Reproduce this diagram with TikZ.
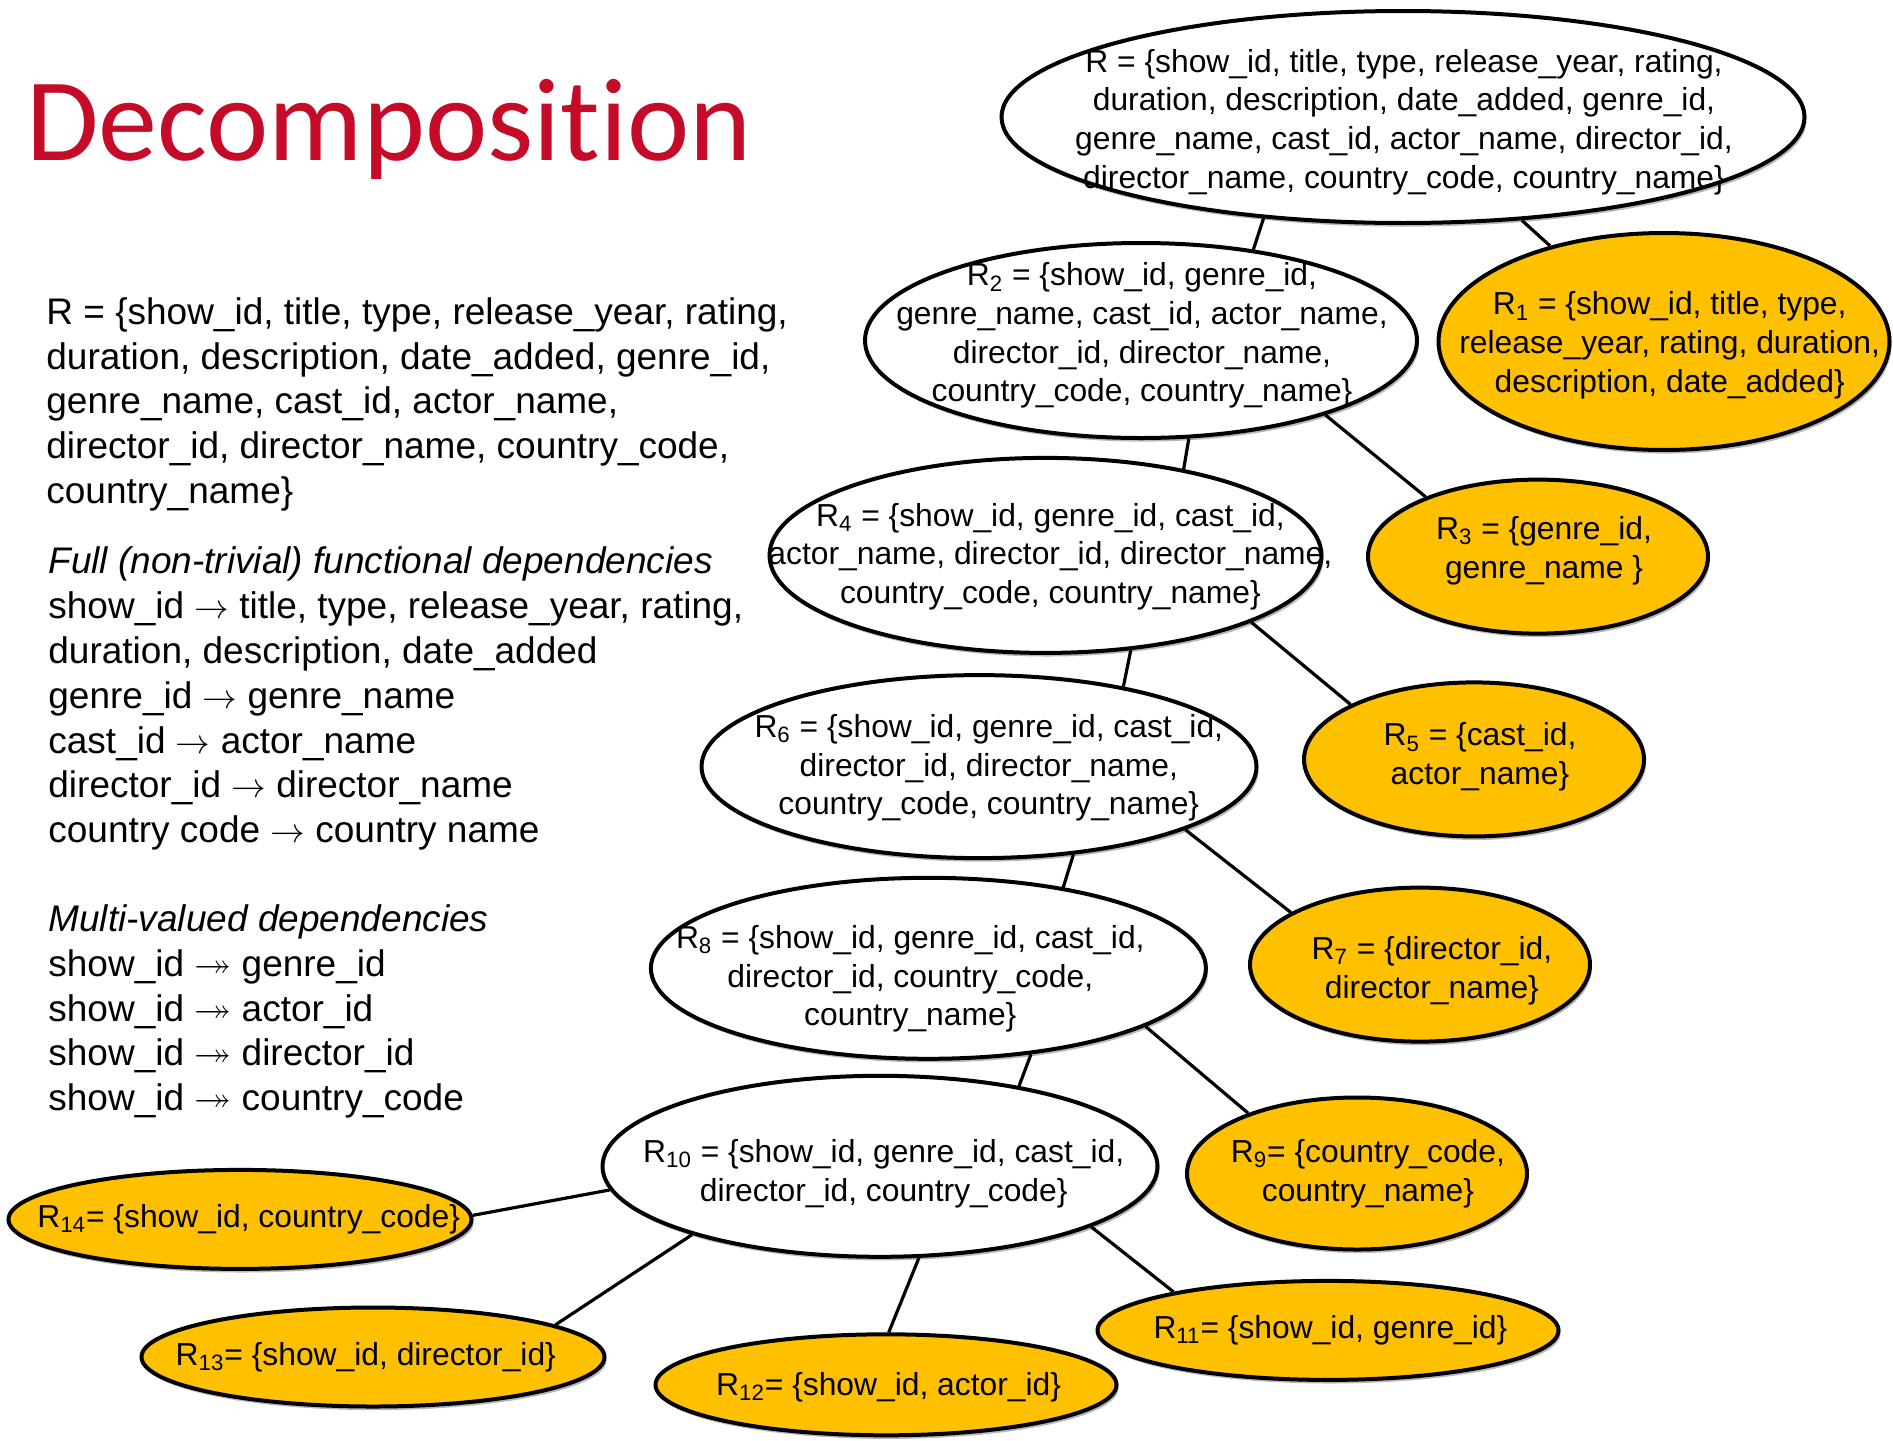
\documentclass[tikz,border=0pt]{standalone}
\usepackage{amssymb}
\usepackage{fontspec}
\setmainfont{Liberation Sans}
\newfontfamily\titlefont[Ligatures=NoCommon]{Carlito}
\usetikzlibrary{shapes.geometric,shadows}
\definecolor{gold}{RGB}{255,192,0}
\definecolor{titlered}{RGB}{196,12,40}

\begin{document}
\begin{tikzpicture}[x=0.5pt,y=-0.5pt,
  rel/.style={ellipse, draw=black, line width=2pt, fill=white, inner sep=0pt,
    drop shadow={shadow xshift=1pt, shadow yshift=-1.8pt, fill=black, opacity=0.28}},
  leaf/.style={rel, fill=gold},
  sz/.style 2 args={minimum width=#1*0.5pt, minimum height=#2*0.5pt},
  etxt/.style={align=center, inner sep=0pt, font=\fontsize{15.9}{19.3}\selectfont},
  side/.style={align=left, inner sep=0pt, anchor=base west, font=\fontsize{18.5}{22.4}\selectfont},
  link/.style={line width=1.6pt}]

\useasboundingbox[fill=white] (0,0) rectangle (1893,1440);

% heading
\node[anchor=base west, inner sep=0pt, text=titlered,
      font=\titlefont\fontsize{59}{61}\selectfont] (title) at (26,160) {Decomposition};

% schema and dependencies (each node is placed by the baseline of its last line)
\node[side] (schema) at (46,503.4) {R = \{show\_id, title, type, release\_year, rating,\\
duration, description, date\_added, genre\_id,\\
genre\_name, cast\_id, actor\_name,\\
director\_id, director\_name, country\_code,\\
country\_name\}};

\node[side] (fds) at (48,842.6) {\textit{Full (non-trivial) functional dependencies}\\
show\_id $\rightarrow$ title, type, release\_year, rating,\\
duration, description, date\_added\\
genre\_id $\rightarrow$ genre\_name\\
cast\_id $\rightarrow$ actor\_name\\
director\_id $\rightarrow$ director\_name\\
country code $\rightarrow$ country name};

\node[side] (mvds) at (48,1110.7) {\textit{Multi-valued dependencies}\\
show\_id $\twoheadrightarrow$ genre\_id\\
show\_id $\twoheadrightarrow$ actor\_id\\
show\_id $\twoheadrightarrow$ director\_id\\
show\_id $\twoheadrightarrow$ country\_code};

% decomposition tree: relations
\node[rel,  sz={803}{212}] (R)   at (1403,117)    {};
\node[rel,  sz={552}{195}] (R2)  at (1141,340.5)  {};
\node[leaf, sz={451}{217}] (R1)  at (1664,341.5)  {};
\node[rel,  sz={552}{195}] (R4)  at (1045.5,555.4){};
\node[leaf, sz={340}{154}] (R3)  at (1538,556.6)  {};
\node[rel,  sz={555}{183}] (R6)  at (979,766.6)   {};
\node[leaf, sz={340}{154}] (R5)  at (1474,759.4)  {};
\node[rel,  sz={555}{181}] (R8)  at (928.4,968.3) {};
\node[leaf, sz={340}{154}] (R7)  at (1420,964.6)  {};
\node[rel,  sz={555}{181}] (R10) at (880,1166.3)  {};
\node[leaf, sz={340}{152}] (R9)  at (1357,1173.5) {};
\node[leaf, sz={463}{99}]  (R14) at (240,1219.4)  {};
\node[leaf, sz={463}{99}]  (R13) at (373,1357)    {};
\node[leaf, sz={461}{101}] (R12) at (886,1384.8)  {};
\node[leaf, sz={461}{99}]  (R11) at (1328,1330.4) {};

% decomposition tree: edges
\draw[link] (R.216.9)   -- (R2.39.1);
\draw[link] (R.319.6)   -- (R1.140);
\draw[link] (R2.296.6)  -- (R4.32.7);
\draw[link] (R2.338.5)  -- (R3.152.9);
\draw[link] (R4.312)    -- (R6.29.8);
\draw[link] (R4.342.3)  -- (R5.156.4);
\draw[link] (R6.317.3)  -- (R8.31);
\draw[link] (R6.343.3)  -- (R7.158.3);
\draw[link] (R8.320.7)  -- (R10.30.6);
\draw[link] (R8.345.6)  -- (R9.151.6);
\draw[link] (R10.185.2) -- (R14.1);
\draw[link] (R10.200.6) -- (R13.10.3);
\draw[link] (R10.293.3) -- (R12.87.5);
\draw[link] (R10.344.7) -- (R11.166.6);

% decomposition tree: attribute sets
\node[etxt] (tR) at (1404,122) {R = \{show\_id, title, type, release\_year, rating,\\
duration, description, date\_added, genre\_id,\\
genre\_name, cast\_id, actor\_name, director\_id,\\
director\_name, country\_code, country\_name\}};
\node[etxt] (tR2) at (1142,335.6) {R\textsubscript{2} = \{show\_id, genre\_id,\\
genre\_name, cast\_id, actor\_name,\\
director\_id, director\_name,\\
country\_code, country\_name\}};
\node[etxt] (tR1) at (1669.7,345.3) {R\textsubscript{1} = \{show\_id, title, type,\\
release\_year, rating, duration,\\
description, date\_added\}};
\node[etxt] (tR4) at (1050.4,556.6) {R\textsubscript{4} = \{show\_id, genre\_id, cast\_id,\\
actor\_name, director\_id, director\_name,\\
country\_code, country\_name\}};
\node[etxt] (tR3) at (1544,550.5) {R\textsubscript{3} = \{genre\_id,\\
genre\_name \}};
\node[etxt] (tR6) at (988.8,767.8) {R\textsubscript{6} = \{show\_id, genre\_id, cast\_id,\\
director\_id, director\_name,\\
country\_code, country\_name\}};
\node[etxt] (tR5) at (1480,757) {R\textsubscript{5} = \{cast\_id,\\
actor\_name\}};
\node[etxt] (tR8) at (910.3,979.1) {R\textsubscript{8} = \{show\_id, genre\_id, cast\_id,\\
director\_id, country\_code,\\
country\_name\}};
\node[etxt] (tR7) at (1431.9,970.7) {R\textsubscript{7} = \{director\_id,\\
director\_name\}};
\node[etxt] (tR10) at (883.7,1173.5) {R\textsubscript{10} = \{show\_id, genre\_id, cast\_id,\\
director\_id, country\_code\}};
\node[etxt] (tR9) at (1367.9,1173.5) {R\textsubscript{9}= \{country\_code,\\
country\_name\}};
\node[etxt] (tR14) at (248.7,1219.4) {R\textsubscript{14}= \{show\_id, country\_code\}};
\node[etxt] (tR13) at (365.8,1357) {R\textsubscript{13}= \{show\_id, director\_id\}};
\node[etxt] (tR12) at (888.6,1387.2) {R\textsubscript{12}= \{show\_id, actor\_id\}};
\node[etxt] (tR11) at (1330.4,1330.4) {R\textsubscript{11}= \{show\_id, genre\_id\}};

\end{tikzpicture}
\end{document}
